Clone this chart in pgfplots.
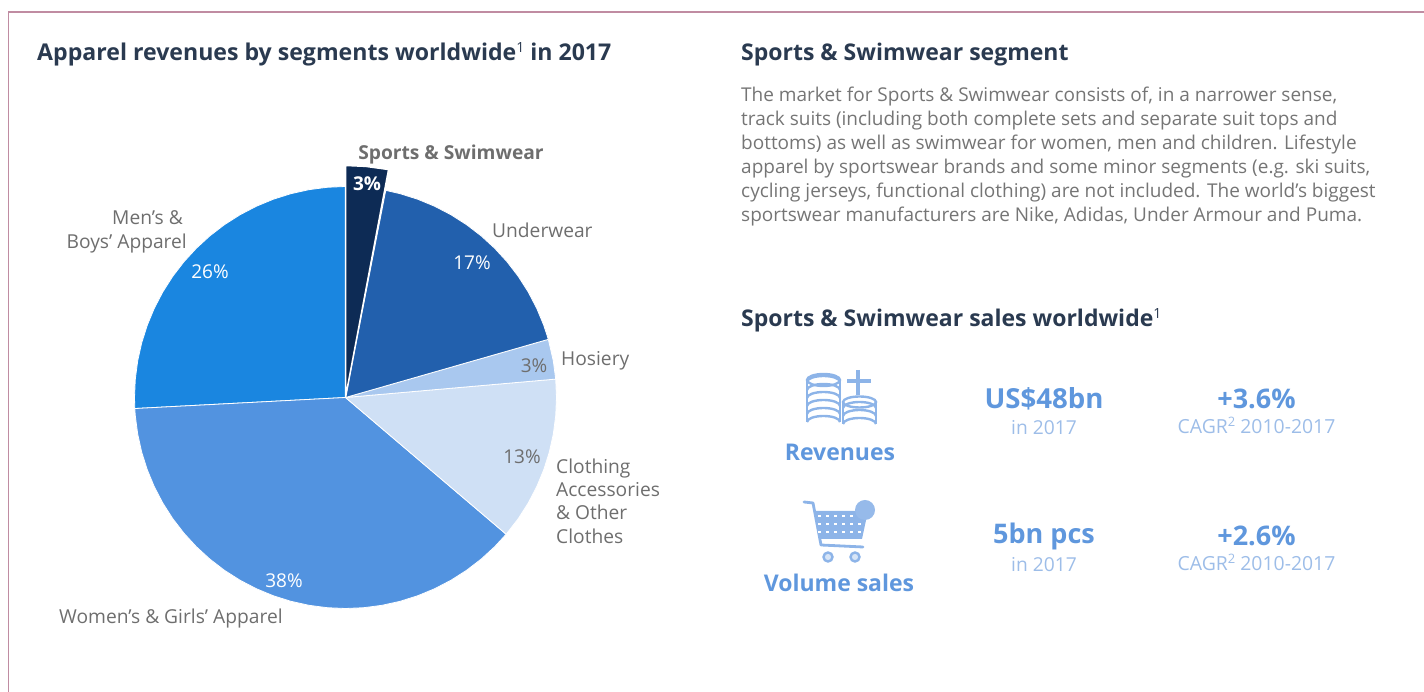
\documentclass[border=0pt]{standalone}
\usepackage{pgfplots}
\pgfplotsset{compat=1.18}
\usepackage{fontspec}
\setmainfont{Open Sans}
\definecolor{cMen}{HTML}{1A86E0}
\definecolor{cWomen}{HTML}{5293E0}
\definecolor{cCloth}{HTML}{CFE0F5}
\definecolor{cHos}{HTML}{A9C8EF}
\definecolor{cUnder}{HTML}{2260AD}
\definecolor{cSport}{HTML}{0D2B55}
\definecolor{cTitle}{HTML}{2A3A50}
\definecolor{cBody}{HTML}{757575}
\definecolor{cLab}{HTML}{6E6E6E}
\definecolor{cBlue}{HTML}{5F97DD}
\definecolor{cLight}{HTML}{9DBDE8}
\definecolor{cIcon}{HTML}{8DB4E8}
\definecolor{cFrame}{HTML}{C08CA2}
\newcommand\fs[1]{\fontsize{#1}{#1}\selectfont}
\newcommand\sups[2]{\raisebox{0.38em}{\fs{#1}\mdseries #2}}
\tikzset{t/.style={inner sep=0pt,anchor=base west},
 m/.style={inner sep=0pt,anchor=center}}
\begin{document}
\begin{tikzpicture}
\path[use as bounding box] (0,0) rectangle (1424pt,692pt);
\begin{axis}[at={(0,0)},anchor=south west,scale only axis,width=1424pt,height=692pt,
  xmin=-345.5,xmax=1078.5,ymin=-294.5,ymax=397.5,hide axis,clip=false]
% Men's & Boys' Apparel 26%
\addplot[fill=cMen,draw=white,line width=0.8pt,data cs=polar] coordinates {(0,0)(90,211)(95,211)(100,211)(105,211)(110,211)(115,211)(120,211)(125,211)(130,211)(135,211)(140,211)(145,211)(150,211)(155,211)(160,211)(165,211)(170,211)(175,211)(180,211)(183,211)} --cycle;
% Women's & Girls' Apparel 38%
\addplot[fill=cWomen,draw=white,line width=0.8pt,data cs=polar] coordinates {(0,0)(183,211)(185,211)(190,211)(195,211)(200,211)(205,211)(210,211)(215,211)(220,211)(225,211)(230,211)(235,211)(240,211)(245,211)(250,211)(255,211)(260,211)(265,211)(270,211)(275,211)(280,211)(285,211)(290,211)(295,211)(300,211)(305,211)(310,211)(315,211)(319.6,211)} --cycle;
% Clothing Accessories & Other Clothes 13%
\addplot[fill=cCloth,draw=white,line width=0.8pt,data cs=polar] coordinates {(0,0)(319.6,211)(325,211)(330,211)(335,211)(340,211)(345,211)(350,211)(355,211)(360,211)(365,211)} --cycle;
% Hosiery 3%
\addplot[fill=cHos,draw=white,line width=0.8pt,data cs=polar] coordinates {(0,0)(5,211)(10,211)(16,211)} --cycle;
% Underwear 17%
\addplot[fill=cUnder,draw=white,line width=0.8pt,data cs=polar] coordinates {(0,0)(16,211)(20,211)(25,211)(30,211)(35,211)(40,211)(45,211)(50,211)(55,211)(60,211)(65,211)(70,211)(75,211)(79,211)} --cycle;
% Sports & Swimwear 3%
\addplot[fill=cSport,draw=white,line width=1.5pt,data cs=polar] coordinates {(0,0)(79.3,232)(85,232)(90,232)} --cycle;
\end{axis}
\begin{scope}[shift={(0,692pt)},x=1pt,y=-1pt]
\draw[cFrame,line width=1.6pt] (1424,12) -- (8.5,12) -- (8.5,692);
% titles
\node[t,text=cTitle] at (37,61) {\fs{23.1}\bfseries Apparel revenues by segments worldwide\sups{14}{1} in 2017};
\node[t,text=cTitle] at (741,61) {\fs{23}\bfseries Sports \& Swimwear segment};
\node[t,text=cTitle] at (741,327) {\fs{23}\bfseries Sports \& Swimwear sales worldwide\sups{14}{1}};
% body
\foreach \y/\s in {102/{The market for Sports \& Swimwear consists of, in a narrower sense,},
 126/{track suits (including both complete sets and separate suit tops and},
 150/{bottoms) as well as swimwear for women, men and children. Lifestyle},
 174/{apparel by sportswear brands and some minor segments (e.g. ski suits,},
 198/{cycling jerseys, functional clothing) are not included. The world's biggest},
 222/{sportswear manufacturers are Nike, Adidas, Under Armour and Puma.}}
 {\node[t,text=cBody] at (741,\y) {\fs{19}\s};}
% pie labels
\node[m,text=cLab] at (451,155) {\fs{19.2}\bfseries Sports \& Swimwear};
\node[m,text=white] at (367,184) {\fs{19}\bfseries 3\%};
\node[inner sep=0pt,anchor=base east,text=cLab] at (183,225) {\fs{19.2}Men's \&};
\node[inner sep=0pt,anchor=base east,text=cLab] at (187,249) {\fs{19.2}Boys' Apparel};
\node[t,text=cLab] at (492,238) {\fs{19.2}Underwear};
\node[t,text=cLab] at (561,365.5) {\fs{19.2}Hosiery};
\node[t,text=cLab] at (556,473.5) {\fs{19.2}Clothing};
\node[t,text=cLab] at (556,496.5) {\fs{19.2}Accessories};
\node[t,text=cLab] at (556,519.5) {\fs{19.2}\& Other};
\node[t,text=cLab] at (556,543.5) {\fs{19.2}Clothes};
\node[t,text=cLab] at (59,624) {\fs{19.2}Women's \& Girls' Apparel};
\node[m,text=white] at (210,272) {\fs{19}26\%};
\node[m,text=white] at (472,263) {\fs{19}17\%};
\node[m,text=cLab] at (534,366) {\fs{19}3\%};
\node[m,text=cLab] at (522,457) {\fs{19}13\%};
\node[m,text=white] at (284,581) {\fs{19}38\%};
% KPI text
\node[m,text=cBlue] at (840,452) {\fs{23}\bfseries Revenues};
\node[m,text=cBlue] at (839,583) {\fs{23}\bfseries Volume sales};
\node[m,text=cBlue] at (1044,399) {\fs{27.6}\bfseries US\$48bn};
\node[m,text=cLight] at (1044,428) {\fs{19.2}in 2017};
\node[m,text=cBlue] at (1256.5,399) {\fs{27}\bfseries +3.6\%};
\node[m,text=cLight,anchor=base] at (1256.5,434) {\fs{19.4}CAGR\sups{13}{2} 2010-2017};
\node[m,text=cBlue] at (1044,536) {\fs{27}\bfseries 5bn pcs};
\node[m,text=cLight] at (1044,565) {\fs{19.2}in 2017};
\node[m,text=cBlue] at (1256.5,536) {\fs{27}\bfseries +2.6\%};
\node[m,text=cLight,anchor=base] at (1256.5,571) {\fs{19.4}CAGR\sups{13}{2} 2010-2017};
% coin icon
\begin{scope}[draw=cIcon,line width=2.4pt]
\foreach \yy in {427,419,411,403,395,387}{
  \draw (807,\yy-5) arc[start angle=180,end angle=360,x radius=16.5,y radius=6];}
\draw (823.5,380) ellipse[x radius=16.5,y radius=6];
\draw (807,380)--(807,422) (840,380)--(840,422);
\foreach \yy in {429,421,413}{
  \draw (843,\yy-5) arc[start angle=180,end angle=360,x radius=16.5,y radius=6];}
\draw (859.5,402) ellipse[x radius=16.5,y radius=5.5];
\draw (843,402)--(843,424) (876,402)--(876,424);
\draw[line width=4.5pt] (858,370)--(858,395) (847,381)--(871,381);
% cart
\draw[line width=2.8pt,line cap=round,line join=round] (804,502)--(813,503)--(821,545)--(863,547);
\fill[cIcon] (814,511)--(868,511)--(862,539)--(819,539)--cycle;
\foreach \a in {817,825,833,841,849,857}{\foreach \b in {515,523,531}{
  \fill[white] (\a+1,\b) rectangle (\a+4,\b+2.5);}}
\fill[cIcon!92!white] (865,510) circle[radius=10];
\draw[line width=2.4pt,fill=cIcon!35!white] (828,557) circle[radius=4.5] (855,557) circle[radius=4.5];
\end{scope}
\end{scope}
\end{tikzpicture}
\end{document}
